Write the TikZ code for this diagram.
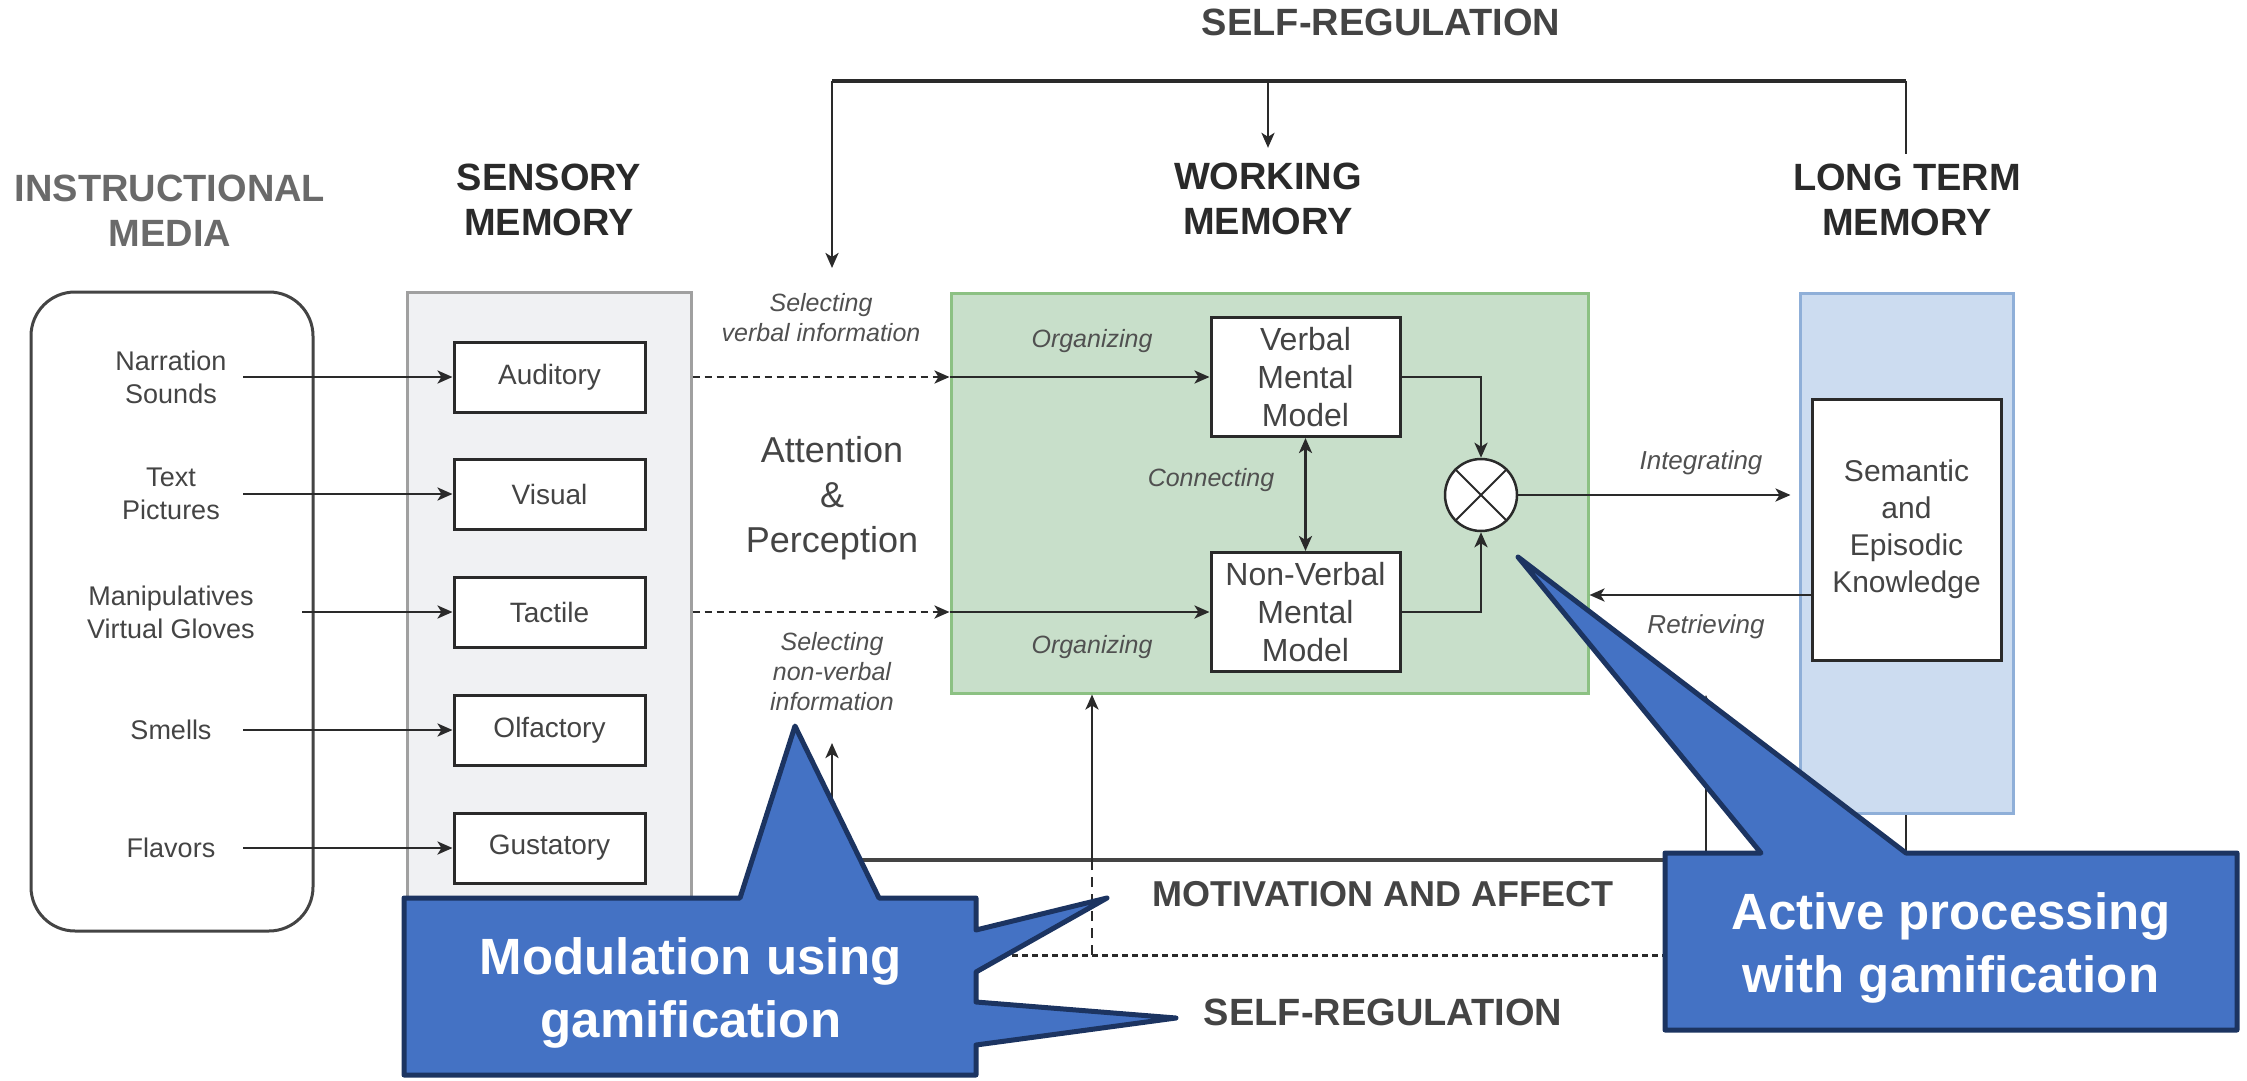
\documentclass[tikz,border=0pt]{standalone}
\usepackage{fontspec}
\setmainfont{Liberation Sans}
\usetikzlibrary{arrows.meta,calc}
\definecolor{inkdark}{HTML}{2A2A2A}
\definecolor{inkmid}{HTML}{444444}
\definecolor{inklabel}{HTML}{505050}
\definecolor{inkgray}{HTML}{6A6A6A}
\definecolor{sensfill}{HTML}{F0F1F3}
\definecolor{sensline}{HTML}{A0A0A0}
\definecolor{wmfill}{HTML}{C8DFCA}
\definecolor{wmline}{HTML}{8CC183}
\definecolor{ltmfill}{HTML}{CCDCF0}
\definecolor{ltmline}{HTML}{8FAFD8}
\definecolor{callfill}{HTML}{4472C4}
\definecolor{callline}{HTML}{1C3461}

\begin{document}
\begin{tikzpicture}[x=1pt,y=-1pt,
  head/.style={font=\fontsize{38}{45}\selectfont\bfseries, text=inkdark, align=center, inner sep=0pt},
  sensebox/.style={draw=inkdark, line width=3pt, fill=white, minimum width=191pt,
    minimum height=70pt, inner sep=0pt, font=\fontsize{28}{33}\selectfont, text=inkmid},
  medlab/.style={font=\fontsize{27}{33}\selectfont, text=inkmid, align=center, inner sep=0pt},
  modelbox/.style={draw=inkdark, line width=3pt, fill=white, minimum width=189pt,
    minimum height=119pt, inner sep=0pt, align=center,
    font=\fontsize{32}{38}\selectfont, text=inkmid},
  note/.style={font=\fontsize{25}{30}\selectfont\itshape, text=inklabel, align=center, inner sep=0pt},
  conn/.style={line width=2.8pt, draw=inkdark},
  tip/.style={-{Stealth[length=15pt,width=13pt,inset=4pt]}},
  arr/.style={conn, tip},
  calltext/.style={font=\fontsize{51}{63}\selectfont\bfseries, text=white, align=center, inner sep=0pt},
  callout/.style={draw=callline, fill=callfill, line width=5pt, line join=round}
]
\useasboundingbox (0,0) rectangle (2247,1081);

% ---------- column headings ----------
\node[head, text=inkgray] (hmedia) at (170,211) {INSTRUCTIONAL\\MEDIA};
\node[head] (hsens) at (549,199.5) {SENSORY\\MEMORY};
\node[head] (hwm) at (1268,199) {WORKING\\MEMORY};
\node[head] (hltm) at (1907,200) {LONG TERM\\MEMORY};
\node[head, text=inkmid] (srtop) at (1381,22) {SELF-REGULATION};

% ---------- instructional media ----------
\node[draw=inkmid, line width=3pt, rounded corners=44pt, minimum width=282pt,
      minimum height=639pt] (media) at (172,611.5) {};
\node[medlab] (m1) at (171,377) {Narration\\Sounds};
\node[medlab] (m2) at (171,494) {Text\\Pictures};
\node[medlab] (m3) at (171,612) {Manipulatives\\Virtual Gloves};
\node[medlab] (m4) at (171,730) {Smells};
\node[medlab] (m5) at (171,848) {Flavors};

% ---------- sensory memory ----------
\node[draw=sensline, fill=sensfill, line width=3pt, minimum width=284pt,
      minimum height=640pt] (sens) at (549,612) {};
\node[sensebox] (aud) at (549.5,377) {Auditory};
\node[sensebox] (vis) at (549.5,494) {Visual};
\node[sensebox] (tac) at (549.5,612) {Tactile};
\node[sensebox] (olf) at (549.5,730) {Olfactory};
\node[sensebox] (gus) at (549.5,848) {Gustatory};

\coordinate (ms) at (243,0);
\coordinate (mt) at (302,0);
\draw[arr] (m1.east -| ms) -- (aud);
\draw[arr] (m2.east -| ms) -- (vis);
\draw[arr] (m3.east -| mt) -- (tac);
\draw[arr] (m4.east -| ms) -- (olf);
\draw[arr] (m5.east -| ms) -- (gus);

% ---------- working memory ----------
\node[draw=wmline, fill=wmfill, line width=3pt, minimum width=637pt,
      minimum height=400pt] (wm) at (1269.5,493) {};
\node[modelbox] (vmm) at (1305.5,377) {Verbal\\Mental\\Model};
\node[modelbox] (nvm) at (1305.5,612) {Non-Verbal\\Mental\\Model};
\node[draw=inkdark, line width=2.5pt, fill=white, circle, minimum size=72pt,
      inner sep=0pt] (mix) at (1481,495) {};
\draw[line width=2pt, draw=inkdark] (mix.north west) -- (mix.south east)
      (mix.north east) -- (mix.south west);

% selection into working memory
\draw[conn, dash pattern=on 7pt off 5pt, tip] (aud.east -| sens.east) -- (aud.east -| wm.west);
\draw[conn, dash pattern=on 7pt off 5pt, tip] (tac.east -| sens.east) -- (tac.east -| wm.west);
\draw[arr] (aud.east -| wm.west) -- (vmm.west);
\draw[arr] (tac.east -| wm.west) -- (nvm.west);
\draw[conn, {Stealth[length=15pt,width=13pt,inset=4pt]}-{Stealth[length=15pt,width=13pt,inset=4pt]}]
      (vmm.south) -- (nvm.north);
\draw[arr] (vmm.east) -| (mix.north);
\draw[arr] (nvm.east) -| (mix.south);

\node[note] (selv) at (821,318) {Selecting\\verbal information};
\node[note] (selnv) at (832,672) {Selecting\\non-verbal\\information};
\node[note] (org1) at (1092,341) {Organizing};
\node[note] (org2) at (1092,647) {Organizing};
\node[note] (cnx) at (1211,480) {Connecting};
\node[font=\fontsize{36}{45}\selectfont, text=inkmid, align=center, inner sep=0pt]
      (attn) at (832,498.5) {Attention\\\&\\Perception};

% ---------- long term memory ----------
\node[draw=ltmline, fill=ltmfill, line width=3pt, minimum width=213pt,
      minimum height=520pt] (ltm) at (1906.5,553) {};
\node[modelbox, minimum height=261pt, font=\fontsize{30}{37}\selectfont] (sek)
      at (1906.5,529.5) {Semantic\\and\\Episodic\\Knowledge};
\coordinate (rt) at (0,595);
\draw[arr, shorten >=8pt] (mix.east) -- (mix.east -| ltm.west);
\draw[arr] (sek.west |- rt) -- (wm.east |- rt);
\node[note, font=\fontsize{26}{30}\selectfont\itshape] (integ) at (1701,463) {Integrating};
\node[note, font=\fontsize{26}{30}\selectfont\itshape] (retr) at (1706,627) {Retrieving};

% ---------- self-regulation (top) ----------
\coordinate (tl) at (832,81);
\coordinate (tm) at (1268,81);
\coordinate (tr) at (1906,81);
\coordinate (tlend) at (832,268);
\draw[line width=4pt, draw=inkdark] (tl) -- (tr);
\draw[arr] (tl) -- (tlend);
\draw[arr, shorten >=15pt] (tm) -- (tm |- hwm.north);
\draw[conn] (tr) -- ([yshift=10pt]tr |- hltm.north);

% ---------- motivation and affect ----------
\coordinate (ma) at (832,860);
\coordinate (mb) at (1092,860);
\coordinate (mc) at (1706,860);
\coordinate (md) at (1906,860);
\coordinate (uaend) at (832,743);
\coordinate (ucend) at (1706,695);
\draw[line width=4pt, draw=inkmid] (ma) -- (md);
\draw[arr] (ma) -- (uaend);
\draw[arr] (mb) -- (mb |- wm.south);
\draw[arr] (mc) -- (ucend);
\draw[conn] (md) -- (md |- ltm.south);
\node[head, text=inkmid, font=\fontsize{36}{45}\selectfont\bfseries] (mot) at (1383,894) {MOTIVATION AND AFFECT};

% ---------- self-regulation (bottom) ----------
\coordinate (sa) at (832,955);
\coordinate (sd) at (1906,955);
\draw[conn, line width=3pt, dash pattern=on 6pt off 4pt] (sa) -- (sd);
\draw[conn, line width=2pt, dash pattern=on 10pt off 7pt] (mb |- sa) -- (mb);
\node[head, text=inkmid] (srbot) at (1383,1012) {SELF-REGULATION};

% ---------- callouts ----------
\path[callout] (404,898) -- (740,898) -- (795,726) -- (879,898) -- (976,898)
  -- (976,930) -- (1107,898) -- (976,972) -- (976,1002) -- (1176,1018)
  -- (976,1045) -- (976,1075) -- (404,1075) -- cycle;
\node[calltext] (calla) at (691,993) {Modulation using\\gamification};

\path[callout] (1665,853) -- (1761,853) -- (1518,557) -- (1906,853) -- (2237,853)
  -- (2237,1030) -- (1665,1030) -- cycle;
\node[calltext] (callb) at (1951,948) {Active processing\\with gamification};
\end{tikzpicture}
\end{document}
